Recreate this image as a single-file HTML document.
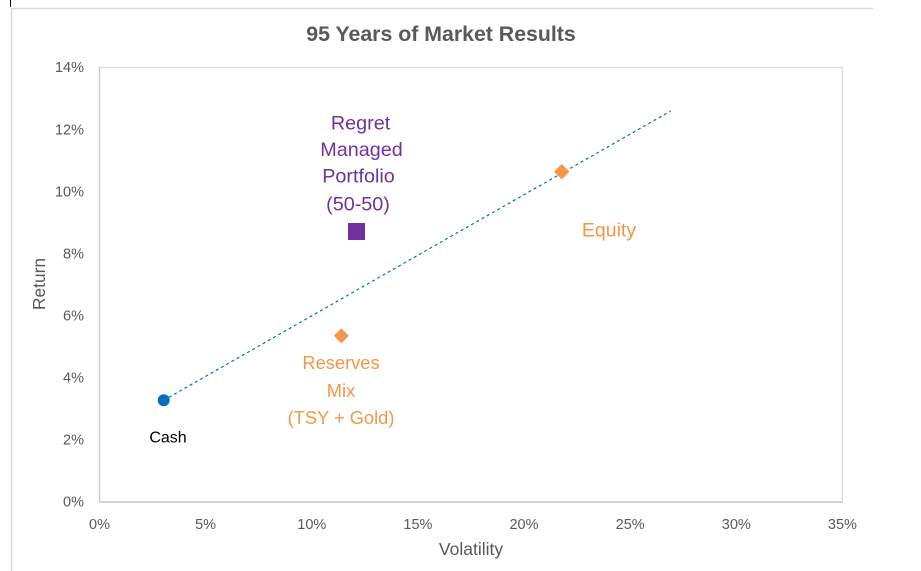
<!DOCTYPE html>
<html>
<head>
<meta charset="utf-8">
<style>
  html, body { margin: 0; padding: 0; background: #ffffff; }
  body { width: 921px; height: 571px; overflow: hidden; }
  svg { display: block; font-family: "Liberation Sans", sans-serif; }
</style>
</head>
<body>
<svg width="921" height="571" viewBox="0 0 921 571" xmlns="http://www.w3.org/2000/svg">
  <!-- outer chart frame -->
  <line x1="10.5" y1="0" x2="10.5" y2="7" stroke="#000" stroke-width="1"/>
  <line x1="11" y1="8.5" x2="873" y2="8.5" stroke="#D9D9D9" stroke-width="1.5"/>
  <line x1="11.5" y1="8" x2="11.5" y2="571" stroke="#D9D9D9" stroke-width="1.5"/>

  <!-- title -->
  <text x="441" y="41" text-anchor="middle" font-size="21.3" font-weight="bold" fill="#595959">95 Years of Market Results</text>

  <!-- plot area -->
  <rect x="99.5" y="67.5" width="742.8" height="434.5" fill="none" stroke="#D9D9D9" stroke-width="1.2"/>
  <line x1="99.5" y1="502" x2="842.3" y2="502" stroke="#BFBFBF" stroke-width="1.3"/>
  <line x1="99.5" y1="67.5" x2="99.5" y2="502" stroke="#C8C8C8" stroke-width="1.2"/>

  <!-- y tick labels -->
  <g font-size="14.5" fill="#595959" text-anchor="end">
    <text x="84" y="506.7">0%</text>
    <text x="84" y="444.6">2%</text>
    <text x="84" y="382.6">4%</text>
    <text x="84" y="320.5">6%</text>
    <text x="84" y="258.4">8%</text>
    <text x="84" y="196.4">10%</text>
    <text x="84" y="134.3">12%</text>
    <text x="84" y="72.2">14%</text>
  </g>

  <!-- x tick labels -->
  <g font-size="14.5" fill="#595959" text-anchor="middle">
    <text x="99.5" y="529.2">0%</text>
    <text x="205.6" y="529.2">5%</text>
    <text x="311.8" y="529.2">10%</text>
    <text x="417.9" y="529.2">15%</text>
    <text x="524" y="529.2">20%</text>
    <text x="630.2" y="529.2">25%</text>
    <text x="736.3" y="529.2">30%</text>
    <text x="842.4" y="529.2">35%</text>
  </g>

  <!-- axis titles -->
  <text x="471" y="555" text-anchor="middle" font-size="17.5" fill="#595959">Volatility</text>
  <text transform="translate(45,284) rotate(-90)" text-anchor="middle" font-size="17.3" fill="#595959">Return</text>

  <!-- trendline -->
  <line x1="163.7" y1="400.3" x2="670.7" y2="111" stroke="#0070C0" stroke-width="1.2" stroke-dasharray="3 3"/>

  <!-- cash point -->
  <circle cx="163.7" cy="400.3" r="6" fill="#0070C0"/>
  <text x="168" y="442.7" text-anchor="middle" font-size="16" fill="#000">Cash</text>

  <!-- equity -->
  <polygon points="561.7,164 569.4,171.7 561.7,179.4 554,171.7" fill="#F79646"/>
  <text x="609" y="236.7" text-anchor="middle" font-size="19.5" fill="#F79646">Equity</text>

  <!-- reserves mix -->
  <polygon points="341.3,328.2 348.8,335.7 341.3,343.2 333.8,335.7" fill="#F79646"/>
  <g font-size="18.3" fill="#F79646" text-anchor="middle">
    <text x="341" y="369">Reserves</text>
    <text x="341" y="397">Mix</text>
    <text x="341" y="424">(TSY + Gold)</text>
  </g>

  <!-- regret managed portfolio -->
  <rect x="348" y="223" width="17" height="17" fill="#7030A0"/>
  <g font-size="19.8" fill="#7030A0" text-anchor="middle">
    <text x="360.5" y="129.3">Regret</text>
    <text x="361.5" y="156">Managed</text>
    <text x="358.5" y="182.5">Portfolio</text>
    <text x="358" y="210.5">(50-50)</text>
  </g>
</svg>
</body>
</html>
